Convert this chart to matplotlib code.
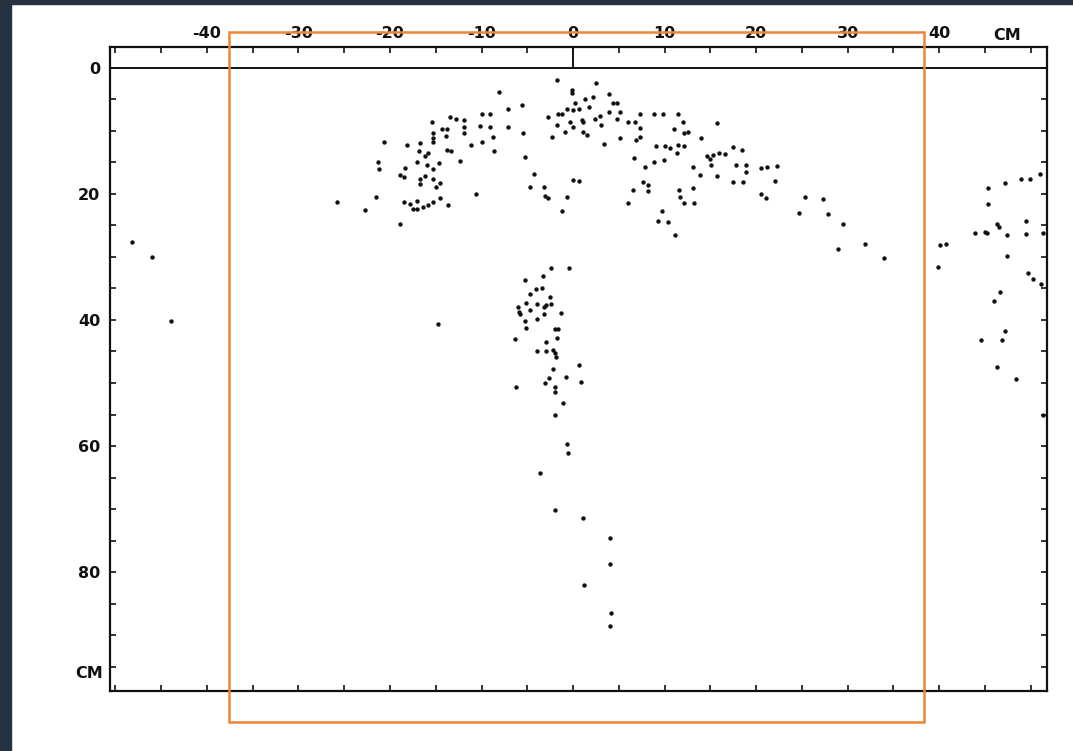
import matplotlib
matplotlib.use("Agg")
import matplotlib.pyplot as plt
from matplotlib.patches import Rectangle

# ==============================
# 1. DATA (cm)
# ==============================

# horizontal position of each dot (cm)
x_cm = [
    -48.2, -46.0, -43.9, -14.7,
    -25.8, -22.7, -18.9, -21.5, -20.7, -21.3, -21.2, -18.9, -18.5, -18.4,
    -18.1, -16.7, -16.8, -15.8, -16.2, -17.1, -16.0, -14.6, -15.3, -16.2,
    -16.7, -15.3, -16.7, -14.5, -15.0, -18.5, -17.8, -17.1, -17.5, -17.1,
    -16.4, -15.8, -15.3, -14.5, -13.7,
    -15.4, -15.3, -15.3, -15.3, -14.3, -13.8, -13.9, -13.8, -13.3, -13.4,
    -12.8, -11.9, -11.9, -11.9, -12.4, -11.2, -10.0, -10.2, -9.1, -10.0,
    -9.1, -8.7, -8.6, -10.6, -8.1, -7.1, -5.6, -7.1, -5.5, -5.2,
    -4.3, -4.7, -3.2, -3.1, -2.7, -1.2, -0.7, 0.0, 0.6,
    -1.8, 2.5, -0.1, -0.1, 3.9, 2.2, 1.3, 0.2, 4.4, 4.8,
    -0.7, 0.0, 0.6, 1.7, -1.6, -1.2, -2.7, 3.9, 5.1, 3.0,
    2.4, -0.3, 1.0, 1.1, 4.8, -1.8, 0.0, 3.1, -0.9, 1.1,
    1.5, -2.3, 3.4, 5.1, 6.9, 7.3, 6.0, 6.8, 7.3, 7.3,
    8.8, 9.8, 11.5, 12.0, 11.0, 12.1, 12.6, 14.0, 15.7, 9.1,
    10.1, 10.6, 11.5, 12.1, 11.4, 6.7, 7.9, 8.9, 9.9, 13.1,
    13.9, 14.6, 15.0, 15.3, 15.9, 16.6, 15.1, 15.7, 17.5, 18.5,
    17.8, 18.9, 18.9, 20.5, 21.2, 22.3, 17.5, 18.6, 22.1, 7.6,
    8.2, 8.2, 6.6, 11.6, 13.1, 11.7, 12.1, 13.2, 6.0, 20.5,
    21.1, 25.4, 27.3, 9.7, 9.3, 10.4, 11.1, 24.7, 27.9, 29.5,
    31.9, 29.0, 34.0, 40.1, 40.8, 39.9,
    51.0, 49.0, 49.9, 47.2, 45.4, 45.3, 49.5, 46.3, 46.5, 43.9,
    45.0, 45.2, 47.4, 49.5, 51.4, 47.4, 49.7, 50.3, 51.1, 46.7,
    46.0, 47.2, 44.6, 46.9, 46.3, 48.4, 51.4,
    -2.4, -0.4, -3.3, -5.3, -4.0, -3.4, -4.7, -2.5, -5.1, -3.9,
    -6.0, -5.9, -5.8, -4.7, -3.2, -2.9, -2.4, -3.2, -1.3, -5.3,
    -3.9, -5.1, -2.0, -1.6, -1.8, -6.3, -2.9, -3.9, -2.9, -2.2,
    -2.0, -1.9, -2.2, 0.7, -2.6, -0.8, 0.9, -6.2, -3.1, -2.0,
    -2.0, -1.1, -2.0, -0.7, -0.6, -3.6, -2.0, 1.1, 4.0, 4.0,
    1.2, 4.1, 4.0,
]

# depth of each dot (cm, grows downwards)
y_cm = [
    27.6, 30.0, 40.1, 40.6,
    21.3, 22.6, 24.8, 20.5, 11.8, 14.9, 16.1, 17.0, 17.4, 15.9,
    12.3, 11.9, 13.2, 13.6, 14.0, 14.9, 15.5, 15.2, 16.1, 17.2,
    17.7, 17.6, 18.4, 18.3, 18.9, 21.3, 21.6, 21.1, 22.5, 22.5,
    22.1, 21.8, 21.3, 20.7, 21.8,
    8.7, 10.3, 11.2, 11.8, 9.8, 9.8, 10.9, 13.1, 13.3, 7.8,
    8.2, 8.3, 9.4, 10.3, 14.8, 12.3, 11.8, 9.3, 9.4, 7.3,
    7.4, 11.0, 13.3, 20.1, 3.9, 6.6, 5.9, 9.5, 10.3, 14.2,
    16.8, 18.9, 18.9, 20.4, 20.7, 22.7, 20.5, 17.8, 18.0,
    2.0, 2.5, 3.6, 4.1, 4.2, 4.7, 5.0, 5.6, 5.7, 5.7,
    6.5, 6.7, 6.5, 6.2, 7.4, 7.3, 7.9, 7.0, 7.0, 7.7,
    8.2, 8.6, 8.3, 8.6, 8.1, 9.1, 9.4, 9.1, 10.2, 10.2,
    10.7, 11.0, 12.1, 11.1, 11.5, 11.0, 8.7, 8.6, 7.4, 9.6,
    7.3, 7.4, 7.3, 8.6, 9.8, 10.3, 10.2, 11.1, 8.8, 12.4,
    12.4, 12.8, 12.3, 12.4, 13.6, 14.4, 15.7, 15.0, 14.7, 15.7,
    17.0, 14.1, 14.5, 13.9, 13.6, 13.7, 15.5, 17.2, 12.6, 13.1,
    15.5, 15.5, 16.6, 15.9, 15.8, 15.6, 18.1, 18.2, 18.0, 18.1,
    18.6, 19.6, 19.4, 19.4, 19.1, 20.5, 21.5, 21.4, 21.4, 20.0,
    20.6, 20.5, 20.8, 22.7, 24.4, 24.5, 26.5, 23.0, 23.2, 24.8,
    28.0, 28.7, 30.2, 28.1, 28.0, 31.6,
    16.8, 17.6, 17.6, 18.3, 19.1, 21.7, 24.3, 24.8, 25.2, 26.3,
    26.0, 26.2, 26.6, 26.4, 26.2, 29.8, 32.6, 33.5, 34.3, 35.5,
    37.0, 41.7, 43.2, 43.2, 47.5, 49.4, 55.1,
    31.7, 31.7, 33.0, 33.7, 35.1, 34.9, 35.9, 36.3, 37.3, 37.4,
    37.9, 38.7, 39.0, 38.4, 38.0, 37.6, 37.5, 39.1, 38.9, 40.1,
    39.9, 41.2, 41.5, 41.4, 42.8, 43.0, 43.5, 44.9, 44.9, 44.8,
    45.3, 45.8, 47.7, 47.1, 49.2, 49.1, 49.8, 50.6, 50.0, 50.7,
    51.4, 53.1, 55.1, 59.7, 61.1, 64.2, 70.1, 71.4, 74.5, 78.7,
    82.0, 86.4, 88.5,
]

# tick labels
x_ticks = [-40, -30, -20, -10, 0, 10, 20, 30, 40]
y_ticks = [0, 20, 40, 60, 80]
unit_label = "CM"

# ==============================
# 2. FIGURE
# ==============================

fig = plt.figure(figsize=(10.73, 7.51), dpi=100)
fig.patch.set_facecolor("white")

# dark frame of the screenshot (left and top)
fig.add_artist(Rectangle((0, 0), 11 / 1073, 1, transform=fig.transFigure,
                         color="#243241", zorder=0))
fig.add_artist(Rectangle((0, 1 - 4 / 751), 1, 4 / 751, transform=fig.transFigure,
                         color="#243241", zorder=0))

ax = fig.add_axes([110 / 1073, 60 / 751, 937 / 1073, 644 / 751])

ax.scatter(x_cm, y_cm, s=10, color="#111111", linewidths=0, zorder=3)

ax.set_xlim(-50.6, 51.8)
ax.set_ylim(98.8, -3.25)

# zero line and the short mark at x = 0
ax.axhline(0, color="#111111", lw=1.4)
ax.plot([0, 0], [-3.25, 0], color="#111111", lw=1.4)

# ==============================
# 3. AXES STYLE
# ==============================

for side in ["top", "bottom", "left", "right"]:
    ax.spines[side].set_linewidth(1.6)
    ax.spines[side].set_color("#111111")

ax.xaxis.tick_top()
ax.set_xticks([v for v in range(-50, 55, 5)], minor=True)
ax.set_xticks(x_ticks)
ax.set_xticklabels([str(v) for v in x_ticks])
ax.set_yticks([v for v in range(0, 100, 5)], minor=True)
ax.set_yticks(y_ticks)
ax.set_yticklabels([str(v) for v in y_ticks])

ax.tick_params(which="both", direction="in", top=True, bottom=True,
               left=True, right=True, length=4, width=1.2, color="#111111")
ax.tick_params(axis="x", pad=4, labelsize=11.5)
ax.tick_params(axis="y", pad=7, labelsize=11.5)
for lab in ax.get_xticklabels() + ax.get_yticklabels():
    lab.set_fontweight("bold")
    lab.set_color("#111111")

# unit labels
ax.text(47.4, -3.9, unit_label, ha="center", va="bottom", fontsize=11.5,
        fontweight="bold", color="#111111")
ax.text(-51.4, 96.0, unit_label, ha="right", va="center", fontsize=11.5,
        fontweight="bold", color="#111111")

# orange highlight box
fig.add_artist(Rectangle((229 / 1073, 1 - 722 / 751), 695 / 1073, 690 / 751,
                         transform=fig.transFigure, fill=False,
                         edgecolor="#ef8536", lw=1.8, zorder=10))

fig.savefig("out.png", dpi=100)
